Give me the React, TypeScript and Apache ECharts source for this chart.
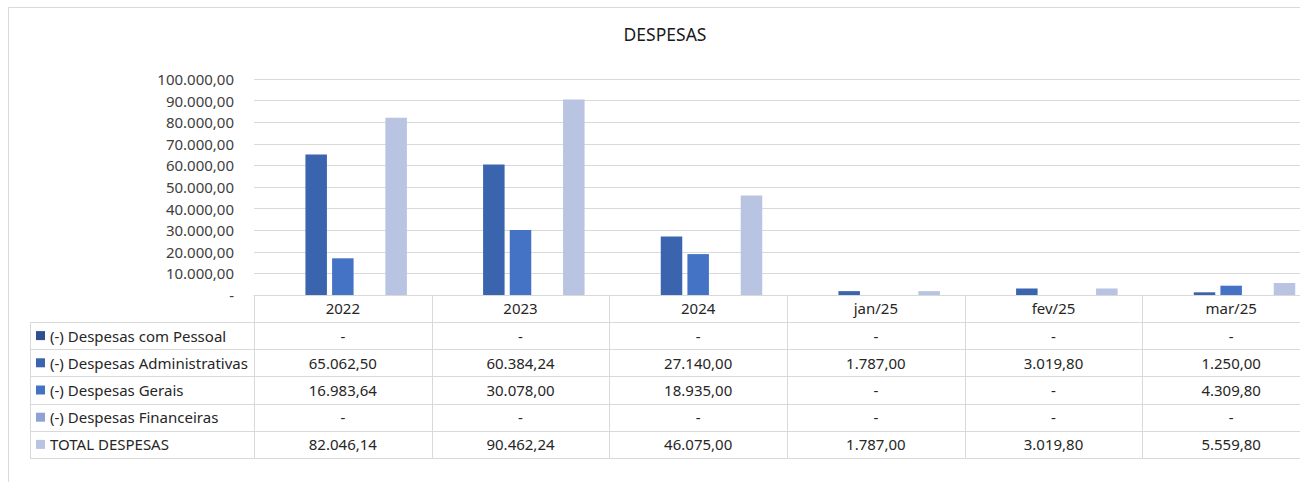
import React, { useEffect, useRef } from "react";
import * as echarts from "echarts";

const title = "DESPESAS";
const categories = ["2022", "2023", "2024", "jan/25", "fev/25", "mar/25"];
const seriesNames = [
  "(-) Despesas com Pessoal",
  "(-) Despesas Administrativas",
  "(-) Despesas Gerais",
  "(-) Despesas Financeiras",
  "TOTAL DESPESAS",
];
const pessoal = [0, 0, 0, 0, 0, 0];
const administrativas = [65062.5, 60384.24, 27140.0, 1787.0, 3019.8, 1250.0];
const gerais = [16983.64, 30078.0, 18935.0, 0, 0, 4309.8];
const financeiras = [0, 0, 0, 0, 0, 0];
const total = [82046.14, 90462.24, 46075.0, 1787.0, 3019.8, 5559.8];
const yMin = 0;
const yMax = 100000;
const yInterval = 10000;

const seriesData = [pessoal, administrativas, gerais, financeiras, total];
const seriesColors = ["#2F4F8F", "#3A64AD", "#4472C4", "#8FA2D4", "#B9C3E2"];

function fmt(v: number): string {
  if (v === 0) return "-";
  const [i, d] = v.toFixed(2).split(".");
  return i.replace(/\B(?=(\d{3})+(?!\d))/g, ".") + "," + d;
}

const FONT = "'Noto Sans', sans-serif";
const GRID_LEFT = 254;
const GRID_TOP = 79;
const CHART_W = 1320;
const CHART_H = 482;
const GRID_BOTTOM_Y = 295;
const ROW_TOP = 322;
const ROW_H = 27.2;
const TABLE_LEFT = 30;
const LINE = "#D9D9D9";

export default function App() {
  const ref = useRef<HTMLDivElement>(null);
  useEffect(() => {
    if (!ref.current) return;
    const chart = echarts.init(ref.current, null, { renderer: "svg" });
    chart.setOption({
      animation: false,
      backgroundColor: "#FFFFFF",
      grid: {
        left: GRID_LEFT,
        top: GRID_TOP,
        right: 0,
        bottom: CHART_H - GRID_BOTTOM_Y,
        containLabel: false,
      },
      xAxis: {
        type: "category",
        data: categories,
        axisLine: { show: true, lineStyle: { color: LINE, width: 1 } },
        axisTick: { show: false },
        axisLabel: { fontFamily: FONT, fontSize: 15, color: "#262626", margin: 5 },
      },
      yAxis: {
        type: "value",
        min: yMin,
        max: yMax,
        interval: yInterval,
        axisLine: { show: false },
        axisTick: { show: false },
        splitLine: { lineStyle: { color: LINE, width: 1 } },
        axisLabel: {
          fontFamily: FONT,
          fontSize: 15,
          color: "#404040",
          margin: 20,
          formatter: (v: number) => fmt(v),
        },
      },
      series: seriesNames.map((name, si) => ({
        type: "bar",
        name,
        data: seriesData[si],
        barWidth: 21.5,
        barGap: "24%",
        itemStyle: { color: seriesColors[si] },
      })),
    });

    const n = categories.length;
    const gridW = CHART_W - GRID_LEFT;
    const colW = gridW / n;
    const centers = categories.map((_, i) => chart.convertToPixel({ xAxisIndex: 0 }, i) as number);
    const tableBottom = ROW_TOP + ROW_H * seriesNames.length;
    const g: any[] = [];
    g.push({
      type: "rect",
      shape: { x: 8.5, y: 7.5, width: 1400, height: 600 },
      style: { fill: "none", stroke: LINE, lineWidth: 1 },
      silent: true,
    });
    g.push({
      type: "text",
      x: 665,
      y: 34,
      style: {
        text: title,
        fontFamily: FONT,
        fontSize: 17.5,
        fill: "#1a1a1a",
        align: "center",
        verticalAlign: "middle",
      },
    });
    for (let k = 0; k <= n; k++) {
      const x = Math.round(GRID_LEFT + k * colW) + 0.5;
      g.push({
        type: "line",
        shape: { x1: x, y1: GRID_BOTTOM_Y, x2: x, y2: tableBottom },
        style: { stroke: LINE, lineWidth: 1 },
      });
    }
    g.push({
      type: "line",
      shape: { x1: TABLE_LEFT + 0.5, y1: ROW_TOP, x2: TABLE_LEFT + 0.5, y2: tableBottom },
      style: { stroke: LINE, lineWidth: 1 },
    });
    for (let r = 0; r <= seriesNames.length; r++) {
      const y = Math.round(ROW_TOP + r * ROW_H) + 0.5;
      g.push({
        type: "line",
        shape: { x1: TABLE_LEFT, y1: y, x2: CHART_W, y2: y },
        style: { stroke: LINE, lineWidth: 1 },
      });
    }
    seriesNames.forEach((name, si) => {
      const cy = ROW_TOP + si * ROW_H + ROW_H / 2;
      g.push({
        type: "rect",
        shape: { x: 36, y: cy - 4.5, width: 9, height: 9 },
        style: { fill: seriesColors[si] },
      });
      g.push({
        type: "text",
        x: 50,
        y: cy,
        style: {
          text: name,
          fontFamily: FONT,
          fontSize: 15,
          fill: "#262626",
          verticalAlign: "middle",
        },
      });
      seriesData[si].forEach((v, ci) => {
        g.push({
          type: "text",
          x: centers[ci],
          y: cy,
          style: {
            text: fmt(v),
            fontFamily: FONT,
            fontSize: 15,
            fill: "#262626",
            align: "center",
            verticalAlign: "middle",
          },
        });
      });
    });
    chart.setOption({ graphic: g });
    return () => chart.dispose();
  }, []);
  return (
    <div style={{ position: "absolute", left: 0, top: 0, width: 1300, height: 482, overflow: "hidden", background: "#fff" }}>
      <div ref={ref} style={{ width: CHART_W, height: CHART_H }} />
    </div>
  );
}
